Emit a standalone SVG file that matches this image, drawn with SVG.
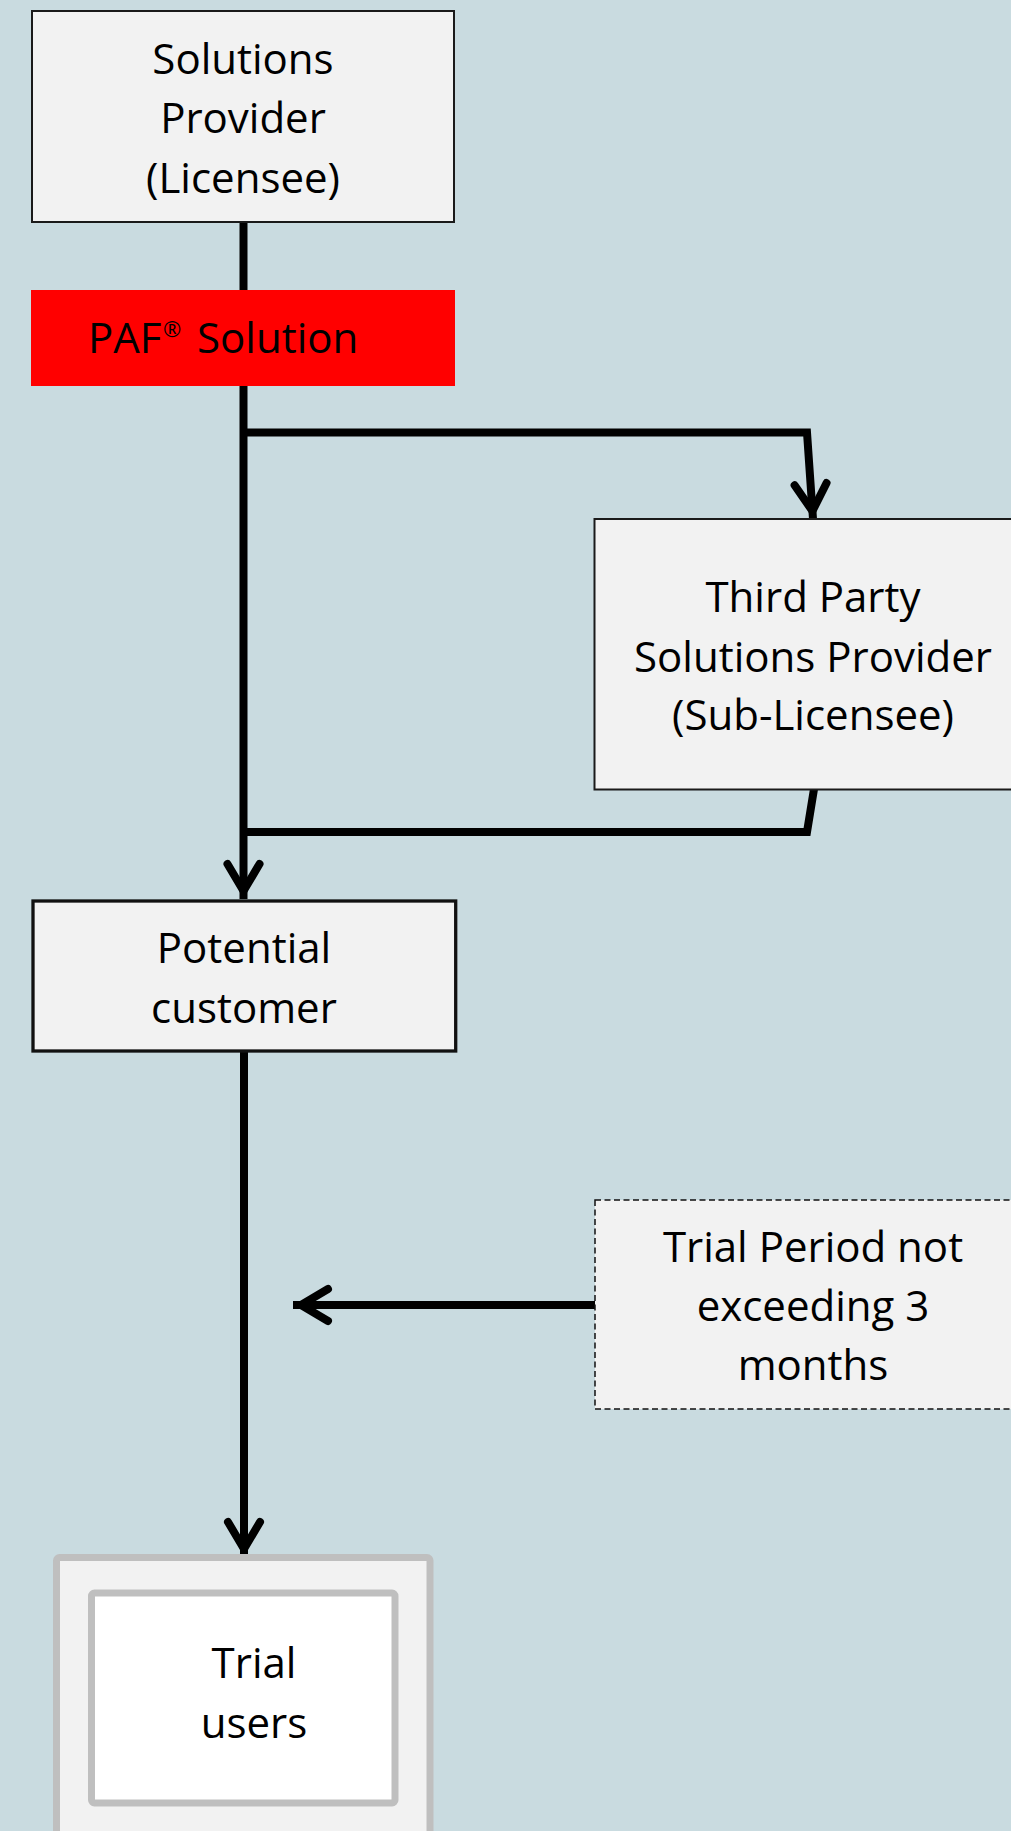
<svg xmlns="http://www.w3.org/2000/svg" width="1011" height="1831" viewBox="0 0 1011 1831">
<defs>
<style>
.t{font-family:"Open Sans","Noto Sans","DejaVu Sans",sans-serif;font-size:42px;fill:#000;text-anchor:middle}
.tl{font-family:"Open Sans","Noto Sans","DejaVu Sans",sans-serif;font-size:42px;fill:#000}
.box{fill:#F2F2F2;stroke:#1a1a1a;stroke-width:2}
.conn{fill:none;stroke:#000;stroke-width:8;stroke-linejoin:miter}
</style>
<marker id="arr" markerUnits="userSpaceOnUse" markerWidth="60" markerHeight="60" refX="0" refY="0" orient="auto" overflow="visible">
<path d="M-35,-16 L-8,0 L-35,16" fill="none" stroke="#000" stroke-width="8" stroke-linecap="round" stroke-linejoin="miter"/>
</marker>
</defs>
<rect x="0" y="0" width="1011" height="1831" fill="#C9DBE0"/>

<g id="connectors">
<path class="conn" d="M243.5,222 L243.5,292"/>
<path class="conn" d="M243.5,384 L243.5,899" marker-end="url(#arr)"/>
<path class="conn" d="M243.5,432.5 L807,432.5 L813,519" marker-end="url(#arr)"/>
<path class="conn" d="M814,789 L807,832 L243.5,832"/>
<path class="conn" d="M244,1051 L244,1557" marker-end="url(#arr)"/>
<path class="conn" d="M596,1305 L293,1305" marker-end="url(#arr)"/>
</g>

<g id="solutions-provider">
<rect class="box" x="32" y="11" width="422" height="211"/>
<text class="t" x="243" y="74">Solutions</text>
<text class="t" x="243" y="133">Provider</text>
<text class="t" x="243" y="193">(Licensee)</text>
</g>

<g id="paf-solution">
<rect x="31" y="290" width="424" height="96" fill="#FF0000"/>
<text class="tl"><tspan x="88" y="353">PAF</tspan><tspan x="163" y="337" font-size="22">®</tspan><tspan x="197" y="353">Solution</tspan></text>
</g>

<g id="third-party">
<rect class="box" x="594.5" y="519" width="440" height="270.5"/>
<text class="t" x="813" y="612">Third Party</text>
<text class="t" x="813" y="672">Solutions Provider</text>
<text class="t" x="813" y="730">(Sub-Licensee)</text>
</g>

<g id="potential-customer">
<rect x="33" y="901" width="422.7" height="150" fill="#F2F2F2" stroke="#111" stroke-width="3.3"/>
<text class="t" x="244" y="963">Potential</text>
<text class="t" x="244" y="1023">customer</text>
</g>

<g id="trial-period">
<rect x="595" y="1200" width="440" height="209" fill="#F2F2F2" stroke="#111" stroke-width="1.5" stroke-dasharray="6 3.5"/>
<text class="t" x="813" y="1262">Trial Period not</text>
<text class="t" x="813" y="1321">exceeding 3</text>
<text class="t" x="813" y="1380">months</text>
</g>

<g id="trial-users">
<rect x="56.5" y="1557.5" width="373.5" height="340" rx="3" fill="#F2F2F2" stroke="#BFBFBF" stroke-width="7"/>
<rect x="91.5" y="1593" width="303.5" height="210" rx="3" fill="#FFFFFF" stroke="#BFBFBF" stroke-width="7"/>
<text class="t" x="254" y="1678">Trial</text>
<text class="t" x="254" y="1738">users</text>
</g>
</svg>
